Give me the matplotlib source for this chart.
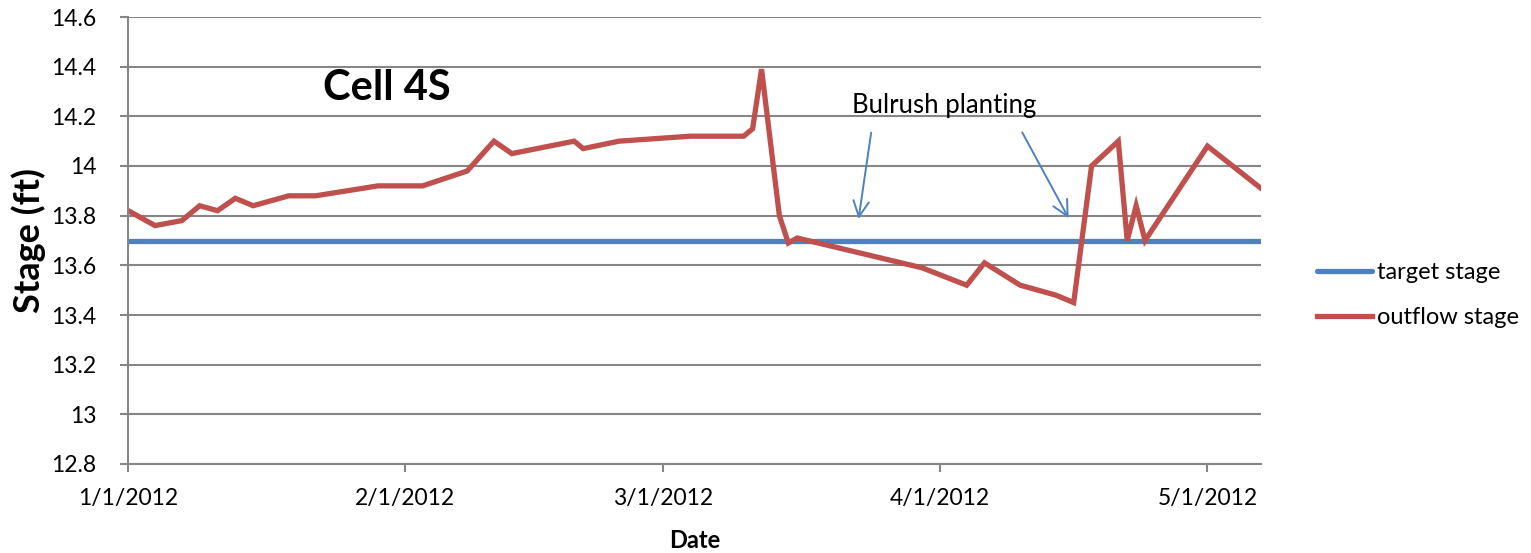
import matplotlib
matplotlib.use("Agg")
import matplotlib.pyplot as plt
import matplotlib.dates as mdates
import pandas as pd

plt.rcParams['font.family'] = ['Lato', 'DejaVu Sans']

# outflow stage readings
dates = pd.to_datetime([
    "2012-01-01", "2012-01-04", "2012-01-07", "2012-01-09", "2012-01-11",
    "2012-01-13", "2012-01-15", "2012-01-19", "2012-01-22", "2012-01-29",
    "2012-02-03", "2012-02-08", "2012-02-11", "2012-02-13", "2012-02-20",
    "2012-02-21", "2012-02-25", "2012-03-04", "2012-03-10", "2012-03-11",
    "2012-03-12", "2012-03-14", "2012-03-15", "2012-03-16", "2012-03-30",
    "2012-04-04", "2012-04-06", "2012-04-10", "2012-04-14", "2012-04-16",
    "2012-04-18", "2012-04-21", "2012-04-22", "2012-04-23", "2012-04-24",
    "2012-05-01", "2012-05-07",
])
outflow = [
    13.82, 13.76, 13.78, 13.84, 13.82,
    13.87, 13.84, 13.88, 13.88, 13.92,
    13.92, 13.98, 14.10, 14.05, 14.10,
    14.07, 14.10, 14.12, 14.12, 14.15,
    14.39, 13.80, 13.69, 13.71, 13.59,
    13.52, 13.61, 13.52, 13.48, 13.45,
    14.00, 14.10, 13.70, 13.84, 13.70,
    14.08, 13.91,
]
target = [13.7] * len(dates)

# annotation arrows: (text-side start, tip)
arrow_starts = [(pd.Timestamp("2012-03-24 08:00"), 14.145), (pd.Timestamp("2012-04-10 02:00"), 14.145)]
arrow_tips = [(pd.Timestamp("2012-03-22 20:00"), 13.776), (pd.Timestamp("2012-04-15 14:00"), 13.78)]

fig = plt.figure(figsize=(15.31, 5.53), dpi=100)
ax = fig.add_axes([128.3 / 1531, 1 - 464 / 553, (1261 - 128.3) / 1531, (464 - 17) / 553])

blue = "#4F81BD"
red = "#C0504D"
grid = "#868686"

ax.plot(dates, target, color=blue, lw=3.8, solid_capstyle="round", label="target stage")
ax.plot(dates, outflow, color=red, lw=3.8, solid_joinstyle="miter", label="outflow stage")

ax.set_xlim(dates[0], dates[-1])
ax.set_ylim(12.8, 14.6)
ax.set_yticks([12.8, 13.0, 13.2, 13.4, 13.6, 13.8, 14.0, 14.2, 14.4, 14.6])
ax.set_yticklabels(["12.8", "13", "13.2", "13.4", "13.6", "13.8", "14", "14.2", "14.4", "14.6"])
ax.set_xticks(pd.to_datetime(["2012-01-01", "2012-02-01", "2012-03-01", "2012-04-01", "2012-05-01"]))
ax.xaxis.set_major_formatter(mdates.DateFormatter("%-m/%-d/%Y"))

ax.grid(axis="y", color=grid, lw=1.5)
ax.set_axisbelow(True)
for side in ["top", "right"]:
    ax.spines[side].set_visible(False)
for side in ["left", "bottom"]:
    ax.spines[side].set_color(grid)
    ax.spines[side].set_linewidth(1.5)
ax.tick_params(axis="both", colors=grid, width=1.5, length=6, labelsize=16.5, labelcolor="black")
ax.tick_params(axis="x", pad=11)
ax.tick_params(axis="y", pad=17)

ax.set_ylabel("Stage (ft)", fontsize=26, fontweight="bold", labelpad=4)
ax.set_xlabel("Date", fontsize=17, fontweight="bold", labelpad=15)

ax.text(0.2285, 0.841, "Cell 4S", transform=ax.transAxes, fontsize=30, fontweight="bold",
        ha="center", va="center")
ax.text(pd.Timestamp("2012-03-22 04:00"), 14.245, "Bulrush planting", fontsize=18.5,
        ha="left", va="center")
for start, tip in zip(arrow_starts, arrow_tips):
    ax.annotate("", xy=tip, xytext=start,
                arrowprops=dict(arrowstyle="->", color=blue, lw=1.4, mutation_scale=28))

fig.legend(loc="center left", bbox_to_anchor=(1296 / 1531, 1 - 295 / 553), frameon=False,
           fontsize=17, handlelength=2.3, handletextpad=0.25, labelspacing=1.0)

fig.savefig("out.png", dpi=100)
